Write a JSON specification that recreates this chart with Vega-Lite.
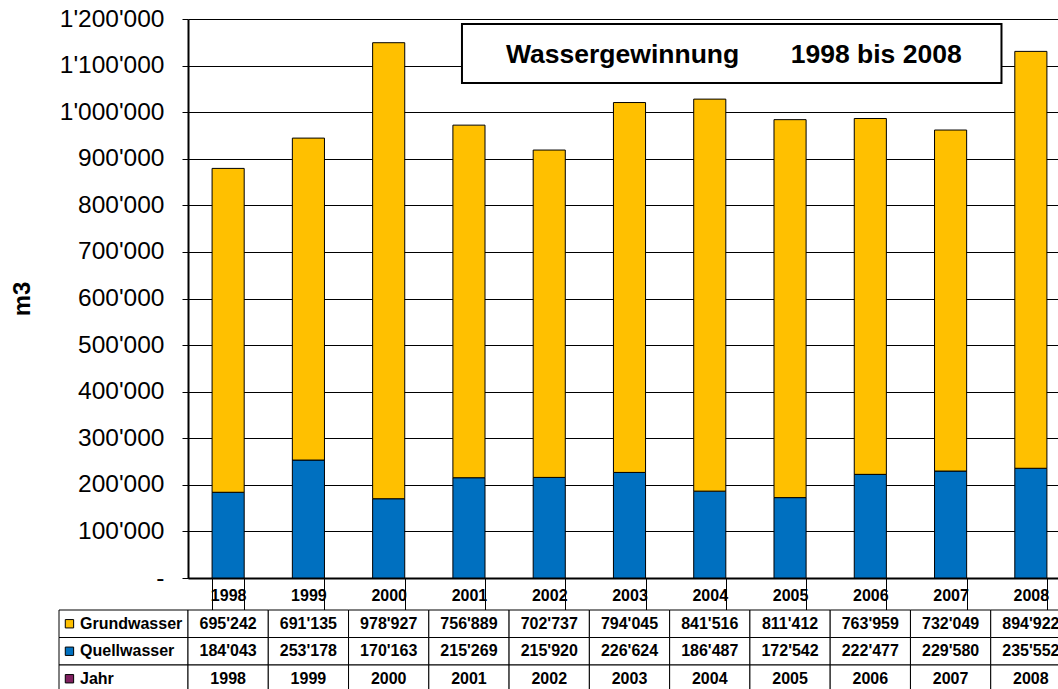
{
  "$schema": "https://vega.github.io/schema/vega-lite/v6.json",
  "padding": {"left": 10, "top": 6, "right": 0, "bottom": 0},
  "config": {
    "locale": {"number": {"decimal": ".", "thousands": "'", "grouping": [3], "currency": ["", ""]}},
    "view": {"stroke": null},
    "font": "Liberation Sans",
    "text": {"font": "Liberation Sans"}
  },
  "datasets": {
    "wasser": [
      {"Jahr": "1998", "Grundwasser": 695242, "Quellwasser": 184043},
      {"Jahr": "1999", "Grundwasser": 691135, "Quellwasser": 253178},
      {"Jahr": "2000", "Grundwasser": 978927, "Quellwasser": 170163},
      {"Jahr": "2001", "Grundwasser": 756889, "Quellwasser": 215269},
      {"Jahr": "2002", "Grundwasser": 702737, "Quellwasser": 215920},
      {"Jahr": "2003", "Grundwasser": 794045, "Quellwasser": 226624},
      {"Jahr": "2004", "Grundwasser": 841516, "Quellwasser": 186487},
      {"Jahr": "2005", "Grundwasser": 811412, "Quellwasser": 172542},
      {"Jahr": "2006", "Grundwasser": 763959, "Quellwasser": 222477},
      {"Jahr": "2007", "Grundwasser": 732049, "Quellwasser": 229580},
      {"Jahr": "2008", "Grundwasser": 894922, "Quellwasser": 235552}
    ],
    "zeilen": [
      {"Zeile": "Grundwasser"},
      {"Zeile": "Quellwasser"},
      {"Zeile": "Jahr"}
    ],
    "titel": [
      {"Titel": "Wassergewinnung\u00a0\u00a0\u00a0\u00a0\u00a0\u00a0\u00a01998 bis 2008"}
    ]
  },
  "columns": 2,
  "bounds": "flush",
  "spacing": {"row": 32, "column": 0},
  "concat": [
    {
      "width": 129,
      "height": 559,
      "data": {"name": "zeilen"},
      "mark": {"type": "text", "text": ""},
      "encoding": {}
    },
    {
      "width": 883,
      "height": 559,
      "layer": [
        {
          "data": {"name": "wasser"},
          "transform": [{"fold": ["Quellwasser", "Grundwasser"], "as": ["Art", "Menge"]}],
          "mark": {"type": "bar", "stroke": "black", "strokeWidth": 1},
          "encoding": {
            "x": {
              "field": "Jahr", "type": "nominal", "sort": null,
              "scale": {"paddingInner": 0.6, "paddingOuter": 0.3},
              "axis": {
                "title": null, "orient": "bottom",
                "domain": true, "domainColor": "black", "domainWidth": 2,
                "ticks": true, "tickBand": "extent", "tickSize": 32, "tickColor": "black", "tickWidth": 1,
                "labelFontSize": 16, "labelFontWeight": "bold", "labelColor": "black",
                "labelBaseline": "middle", "labelPadding": -15, "labelAngle": 0,
                "grid": false
              }
            },
            "y": {
              "field": "Menge", "type": "quantitative", "stack": "zero",
              "scale": {"domain": [0, 1200000], "nice": false},
              "axis": {
                "title": "m3", "titleFontSize": 24, "titleFontWeight": "bold", "titleColor": "black", "titlePadding": 25,
                "values": [0, 100000, 200000, 300000, 400000, 500000, 600000, 700000, 800000, 900000, 1000000, 1100000, 1200000],
                "labelExpr": "datum.value === 0 ? '-\u00a0\u00a0' : format(datum.value, ',')",
                "labelFontSize": 24.5, "labelColor": "black", "labelPadding": 18,
                "domain": true, "domainColor": "black", "domainWidth": 2,
                "ticks": true, "tickSize": 6, "tickColor": "black", "tickWidth": 1,
                "grid": true, "gridColor": "black", "gridWidth": 1, "gridOpacity": 1
              }
            },
            "color": {
              "field": "Art", "type": "nominal",
              "scale": {"domain": ["Grundwasser", "Quellwasser", "Jahr"], "range": ["#FFC000", "#0070C0", "#7F1F5F"]},
              "legend": null
            },
            "order": {"field": "Art", "sort": "descending"}
          }
        },
        {
          "data": {"name": "titel"},
          "layer": [
            {
              "mark": {"type": "rect", "fill": "white", "stroke": "black", "strokeWidth": 2},
              "encoding": {
                "x": {"datum": 3.413, "type": "quantitative", "scale": {"domain": [0, 11], "nice": false}, "axis": null},
                "x2": {"datum": 10.134},
                "y": {"datum": 1189300, "type": "quantitative"},
                "y2": {"datum": 1062600}
              }
            },
            {
              "mark": {"type": "text", "fontSize": 26.5, "fontWeight": "bold", "color": "black", "align": "center", "baseline": "middle"},
              "encoding": {
                "x": {"datum": 6.8, "type": "quantitative", "scale": {"domain": [0, 11], "nice": false}, "axis": null},
                "y": {"datum": 1122000, "type": "quantitative"},
                "text": {"field": "Titel"}
              }
            }
          ]
        }
      ],
      "resolve": {"scale": {"x": "independent"}, "axis": {"x": "independent"}}
    },
    {
      "width": 129,
      "height": 82.5,
      "data": {"name": "zeilen"},
      "layer": [
        {
          "mark": {"type": "rect", "fill": "white", "stroke": "black", "strokeWidth": 1},
          "encoding": {
            "y": {"field": "Zeile", "type": "nominal", "sort": null, "scale": {"domain": ["Grundwasser", "Quellwasser", "Jahr"], "paddingInner": 0, "paddingOuter": 0}, "axis": null}
          }
        },
        {
          "mark": {"type": "point", "shape": "square", "filled": true, "size": 70, "stroke": "black", "strokeWidth": 1, "opacity": 1},
          "encoding": {
            "x": {"datum": 0.081, "type": "quantitative", "scale": {"domain": [0, 1], "nice": false}, "axis": null},
            "y": {"field": "Zeile", "type": "nominal", "sort": null, "axis": null},
            "fill": {"field": "Zeile", "type": "nominal", "scale": {"domain": ["Grundwasser", "Quellwasser", "Jahr"], "range": ["#FFC000", "#0070C0", "#7F1F5F"]}, "legend": null}
          }
        },
        {
          "mark": {"type": "text", "fontSize": 16, "fontWeight": "bold", "color": "black", "align": "left", "baseline": "middle"},
          "encoding": {
            "x": {"datum": 0.163, "type": "quantitative", "axis": null},
            "y": {"field": "Zeile", "type": "nominal", "sort": null, "axis": null},
            "text": {"field": "Zeile"}
          }
        }
      ]
    },
    {
      "width": 883,
      "height": 82.5,
      "data": {"name": "wasser"},
      "layer": [
        {
          "transform": [{"fold": ["Grundwasser", "Quellwasser", "Jahr"], "as": ["Zeile", "Wert"]}],
          "mark": {"type": "rect", "fill": "white", "stroke": "black", "strokeWidth": 1},
          "encoding": {
            "x": {"field": "Jahr", "type": "nominal", "sort": null, "scale": {"paddingInner": 0, "paddingOuter": 0}, "axis": null},
            "y": {"field": "Zeile", "type": "nominal", "sort": null, "scale": {"domain": ["Grundwasser", "Quellwasser", "Jahr"], "paddingInner": 0, "paddingOuter": 0}, "axis": null}
          }
        },
        {
          "transform": [{"fold": ["Grundwasser", "Quellwasser"], "as": ["Zeile", "Wert"]}],
          "mark": {"type": "text", "fontSize": 16, "fontWeight": "bold", "color": "black", "align": "center", "baseline": "middle"},
          "encoding": {
            "x": {"field": "Jahr", "type": "nominal", "sort": null, "axis": null},
            "y": {"field": "Zeile", "type": "nominal", "sort": null, "axis": null},
            "text": {"field": "Wert", "type": "quantitative", "format": ","}
          }
        },
        {
          "mark": {"type": "text", "fontSize": 16, "fontWeight": "bold", "color": "black", "align": "center", "baseline": "middle"},
          "encoding": {
            "x": {"field": "Jahr", "type": "nominal", "sort": null, "axis": null},
            "y": {"datum": "Jahr", "type": "nominal", "axis": null},
            "text": {"field": "Jahr"}
          }
        }
      ]
    }
  ]
}
